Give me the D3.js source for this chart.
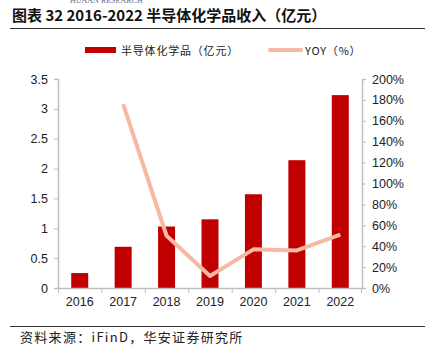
<!DOCTYPE html>
<html>
<head>
<meta charset="utf-8">
<script src="https://cdn.jsdelivr.net/npm/d3@7"></script>
<style>
    body { margin: 0; background: #fff; }
    text { font-family: "Liberation Sans", Arial, "Noto Sans CJK SC", sans-serif; }
</style>
</head>
<body>
<svg id="drawing_region"></svg>
<script>
const years = ["2016", "2017", "2018", "2019", "2020", "2021", "2022"];
const revenue = [0.25, 0.69, 1.03, 1.15, 1.57, 2.14, 3.23];
const yoy = [null, 1.76, 0.50, 0.115, 0.37, 0.36, 0.51];
const leftTicks = [0, 0.5, 1, 1.5, 2, 2.5, 3, 3.5];
const rightTicks = [0, 0.2, 0.4, 0.6, 0.8, 1.0, 1.2, 1.4, 1.6, 1.8, 2.0];

const width = 435, height = 353;
const margin = {top: 79, right: 73, bottom: 65, left: 58};
const cjk = '"Noto Sans CJK SC", sans-serif';

const svg = d3.select('#drawing_region')
    .attr('width', width)
    .attr('height', height);

// faint logo text at the very top (cut off)
svg.append('text')
    .attr('x', 70).attr('y', 3)
    .style('font-size', '8px')
    .style('fill', '#6b6b8a')
    .style('font-family', 'Liberation Serif, serif')
    .text('HUAAN RESEARCH');

// title
svg.append('text')
    .attr('x', 12).attr('y', 21)
    .style('font-size', '15px')
    .style('font-weight', 'bold')
    .style('font-family', cjk)
    .style('fill', '#111')
    .text('图表 32 2016-2022 半导体化学品收入（亿元）');

svg.append('line')
    .attr('x1', 10).attr('x2', 425)
    .attr('y1', 28.5).attr('y2', 28.5)
    .attr('stroke', '#333').attr('stroke-width', 1);

const innerW = width - margin.left - margin.right;
const innerH = height - margin.top - margin.bottom;

const xBand = d3.scaleBand().domain(years).range([0, innerW]);
const yL = d3.scaleLinear().domain([0, 3.5]).range([innerH, 0]);
const yR = d3.scaleLinear().domain([0, 2.0]).range([innerH, 0]);

const chart = svg.append('g')
    .attr('transform', `translate(${margin.left}, ${margin.top})`);

// bars
chart.selectAll('rect.bar')
    .data(years)
    .join('rect')
    .attr('class', 'bar')
    .attr('x', (d) => xBand(d) + xBand.bandwidth() / 2 - 8.5)
    .attr('width', 17)
    .attr('y', (d, i) => yL(revenue[i]))
    .attr('height', (d, i) => innerH - yL(revenue[i]))
    .attr('fill', '#C00000');

// YOY line
const line = d3.line()
    .defined(d => d.v !== null)
    .x(d => xBand(d.year) + xBand.bandwidth() / 2)
    .y(d => yR(d.v));

chart.append('path')
    .datum(years.map((year, i) => ({year, v: yoy[i]})))
    .attr('d', line)
    .attr('fill', 'none')
    .attr('stroke', '#F6B9A3')
    .attr('stroke-width', 4)
    .attr('stroke-linejoin', 'round');

// axes
const axisColor = '#bfbfbf';

const xAxis = chart.append('g')
    .attr('transform', `translate(0, ${innerH})`)
    .call(d3.axisBottom(xBand).tickSize(0).tickPadding(9));
xAxis.select('.domain').attr('stroke', axisColor).attr('stroke-width', 1.5);
xAxis.selectAll('text').style('font-size', '12.5px').style('fill', '#222');
xBand.domain().forEach((d) => {
    chart.append('line')
        .attr('x1', xBand(d) + 0.5).attr('x2', xBand(d) + 0.5)
        .attr('y1', innerH).attr('y2', innerH + 5)
        .attr('stroke', axisColor);
});
chart.append('line')
    .attr('x1', innerW - 0.5).attr('x2', innerW - 0.5)
    .attr('y1', innerH).attr('y2', innerH + 5)
    .attr('stroke', axisColor);

const yAxisL = chart.append('g')
    .call(d3.axisLeft(yL).tickValues(leftTicks).tickSize(4).tickPadding(6)
        .tickFormat(d3.format('~g')));
yAxisL.select('.domain').attr('stroke', axisColor).attr('stroke-width', 1.5);
yAxisL.selectAll('line').attr('stroke', axisColor);
yAxisL.selectAll('text').style('font-size', '12.5px').style('fill', '#222');

const yAxisR = chart.append('g')
    .attr('transform', `translate(${innerW}, 0)`)
    .call(d3.axisRight(yR).tickValues(rightTicks).tickSize(4).tickPadding(6)
        .tickFormat(d3.format('.0%')));
yAxisR.select('.domain').attr('stroke', axisColor).attr('stroke-width', 1.5);
yAxisR.selectAll('line').attr('stroke', axisColor);
yAxisR.selectAll('text').style('font-size', '12.5px').style('fill', '#222');

// legend
const legend = svg.append('g');
legend.append('rect')
    .attr('x', 85).attr('y', 47).attr('width', 31).attr('height', 6)
    .attr('fill', '#C00000');
legend.append('text')
    .attr('x', 121).attr('y', 54.5)
    .style('font-size', '11px').style('font-family', cjk).style('fill', '#222')
    .style('letter-spacing', '0.8px')
    .text('半导体化学品（亿元）');
legend.append('line')
    .attr('x1', 270).attr('x2', 301).attr('y1', 50).attr('y2', 50)
    .attr('stroke', '#F6B9A3').attr('stroke-width', 4).attr('stroke-linecap', 'round');
legend.append('text')
    .attr('x', 305).attr('y', 54.5)
    .style('font-size', '11px').style('font-family', cjk).style('fill', '#222')
    .style('letter-spacing', '0.8px')
    .text('YOY（%）');

// footer
svg.append('line')
    .attr('x1', 10).attr('x2', 425)
    .attr('y1', 326.5).attr('y2', 326.5)
    .attr('stroke', '#333').attr('stroke-width', 1);
svg.append('text')
    .attr('x', 20).attr('y', 342)
    .style('font-size', '13px').style('font-family', cjk).style('fill', '#222')
    .style('letter-spacing', '1.3px')
    .text('资料来源：iFinD，华安证券研究所');
</script>
</body>
</html>
